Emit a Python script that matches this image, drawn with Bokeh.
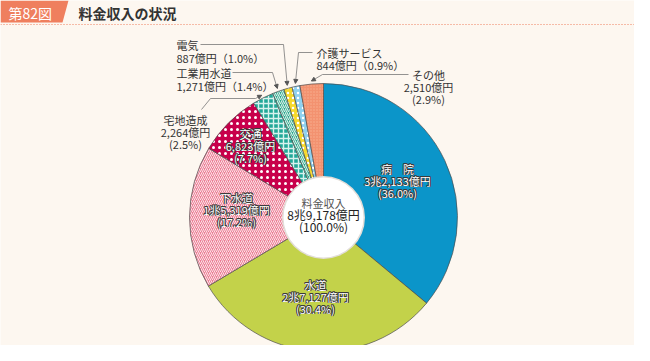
import math
from bokeh.plotting import figure
from bokeh.models import ColumnDataSource, Range1d, Arrow, NormalHead
from bokeh.core.properties import value
from bokeh.embed import file_html
from bokeh.resources import INLINE

# ---- data ----
categories = ["病院", "水道", "下水道", "交通", "宅地造成", "工業用水道", "電気", "介護サービス", "その他"]
values_oku = [32133, 27127, 15319, 6823, 2264, 1271, 887, 844, 2510]
percents = ["36.0%", "30.4%", "17.2%", "7.7%", "2.5%", "1.4%", "1.0%", "0.9%", "2.9%"]
amount_labels = ["3兆2,133億円", "2兆7,127億円", "1兆5,319億円", "6,823億円", "2,264億円",
                 "1,271億円", "887億円", "844億円", "2,510億円"]
total_name = "料金収入"
total_label = "8兆9,178億円"
total_pct = "(100.0%)"
title_tag = "第82図"
title_text = "料金収入の状況"

# ---- styles ----
colors = ["#0b95c9", "#c3d24a", "#ec7f96", "#c8004b", "#22a898", "#2aa58c", "#f6d92c", "#8fd1f0", "#f39270"]
hatches = [" ", " ", "/", ".", "+", "/", ".", ".", "."]
hatch_colors = ["white", "white", "#fbe3e8", "white", "#d8f2ee", "#d9f0e8", "white", "white", "#f7ae90"]
hatch_scales = [8, 8, 4, 6, 5, 4, 5, 5, 3]
hatch_weights = [1, 1, 1.0, 1.7, 1.4, 1.1, 1.8, 1.7, 1.0]

BG = "#fdf7f0"
FONT = "Noto Sans CJK JP"
TAG = "#ef7f5e"


def Y(yref):
    return 361 - yref


W, H = 634, 345
p = figure(width=W, height=H, x_range=Range1d(0, W), y_range=Range1d(Y(H), Y(0)),
           output_backend="svg", toolbar_location=None, min_border=0)
p.axis.visible = False
p.grid.visible = False
p.outline_line_color = None
p.background_fill_color = BG
p.border_fill_color = BG

# ---- title ----
p.patch([0, 68, 62, 0], [Y(0), Y(0), Y(22), Y(22)], fill_color=TAG, line_color=None)
p.text([8], [Y(12)], text=[title_tag], text_font=value(FONT), text_font_size="14px",
       text_color="white", text_baseline="middle")
p.text([78], [Y(12)], text=[title_text], text_font=value(FONT), text_font_size="14px",
       text_font_style="bold", text_color="#333333", text_baseline="middle")
p.line([0, W], [Y(24), Y(24)], line_color=TAG, line_dash="1 2", line_width=1)

# ---- donut ----
CX, CY = 323, Y(217)
R_OUT, R_IN = 134, 40
total = sum(values_oku)
starts, ends, mids = [], [], []
cum = 0.0
for v in values_oku:
    f0 = cum / total
    cum += v
    f1 = cum / total
    starts.append(math.pi / 2 - 2 * math.pi * f0)
    ends.append(math.pi / 2 - 2 * math.pi * f1)
    mids.append((f0 + f1) / 2)

src = ColumnDataSource(dict(start=starts, end=ends, color=colors, hatch=hatches,
                            hcolor=hatch_colors, hscale=hatch_scales, hweight=hatch_weights))
p.wedge(x=CX, y=CY, radius=R_OUT, start_angle="start", end_angle="end", direction="clock",
        fill_color="color", line_color="#4d4d4d", line_width=0.7,
        hatch_pattern="hatch", hatch_color="hcolor", hatch_scale="hscale",
        hatch_weight="hweight", source=src)
p.scatter([CX], [CY], size=2 * R_IN + 3, fill_color="#e2ddd8", line_color=None)
p.scatter([CX], [CY], size=2 * R_IN, fill_color="white", line_color=None)

# ---- inside labels (white text with thin dark outline) ----
inner_pos = {0: (397, 168), 1: (315, 284), 2: (236, 197), 3: (250, 133)}
lx_all, ly_all, lt_all = [], [], []
for i, (lx, ly) in inner_pos.items():
    name = "病　院" if i == 0 else categories[i]
    for k, t in enumerate([name, amount_labels[i], "(" + percents[i] + ")"]):
        lx_all.append(lx)
        ly_all.append(Y(ly + 12 * k))
        lt_all.append(t)
isrc = ColumnDataSource(dict(x=lx_all, y=ly_all, t=lt_all))
d = 0.7
for ox, oy in [(-d, 0), (d, 0), (0, -d), (0, d), (-d, -d), (d, d), (-d, d), (d, -d)]:
    p.text("x", "y", text="t", source=isrc, x_offset=ox, y_offset=oy, text_font=value(FONT),
           text_font_size="11px", text_color="#3a3a3a", text_align="center", text_baseline="middle")
p.text("x", "y", text="t", source=isrc, text_font=value(FONT), text_font_size="11px",
       text_color="white", text_align="center", text_baseline="middle")

# center label
p.text([CX], [Y(202)], text=[total_name], text_font=value(FONT), text_font_size="11px",
       text_color="#555555", text_align="center", text_baseline="middle")
p.text([CX], [Y(214)], text=[total_label], text_font=value(FONT), text_font_size="12px",
       text_color="#222222", text_align="center", text_baseline="middle")
p.text([CX], [Y(226)], text=[total_pct], text_font=value(FONT), text_font_size="12px",
       text_color="#222222", text_align="center", text_baseline="middle")


# ---- outside labels with leaders ----
def tip(i, extra=3):
    a = 2 * math.pi * mids[i]
    return CX + (R_OUT + extra) * math.sin(a), CY + (R_OUT + extra) * math.cos(a)


def leader(i, pts):
    tx, ty = tip(i)
    xs = [q[0] for q in pts] + [tx]
    ys = [Y(q[1]) for q in pts] + [ty]
    p.line(xs[:-1], ys[:-1], line_color="#777777", line_width=0.8)
    p.add_layout(Arrow(x_start=xs[-2], y_start=ys[-2], x_end=tx, y_end=ty,
                       line_color="#777777", line_width=0.8,
                       end=NormalHead(size=4, fill_color="#555555", line_color="#555555")))


def label(lines, x, y0, align="left", step=13):
    for k, t in enumerate(lines):
        p.text([x], [Y(y0 + step * k)], text=[t], text_font=value(FONT), text_font_size="11px",
               text_color="#333333", text_align=align, text_baseline="middle")


def pct_full(i):
    return "（" + percents[i] + "）"


# 電気
label([categories[6], amount_labels[6] + pct_full(6)], 176, 44)
leader(6, [(200, 44), (283, 44)])
# 工業用水道
label([categories[5], amount_labels[5] + pct_full(5)], 176, 72)
leader(5, [(232, 72), (272, 72)])
# 宅地造成
label([categories[4], amount_labels[4], "(" + percents[4] + ")"], 185, 119, align="center", step=12)
leader(4, [(201, 109), (210, 98), (255, 98)])
# 介護サービス
label([categories[7], amount_labels[7] + pct_full(7)], 316, 52, step=12)
leader(7, [(312, 52), (298, 52)])
# その他
label([categories[8], amount_labels[8], "(" + percents[8] + ")"], 428, 74, align="center", step=12)
leader(8, [(408, 74), (322, 74)])

open("out.html", "w").write(file_html(p, INLINE))
